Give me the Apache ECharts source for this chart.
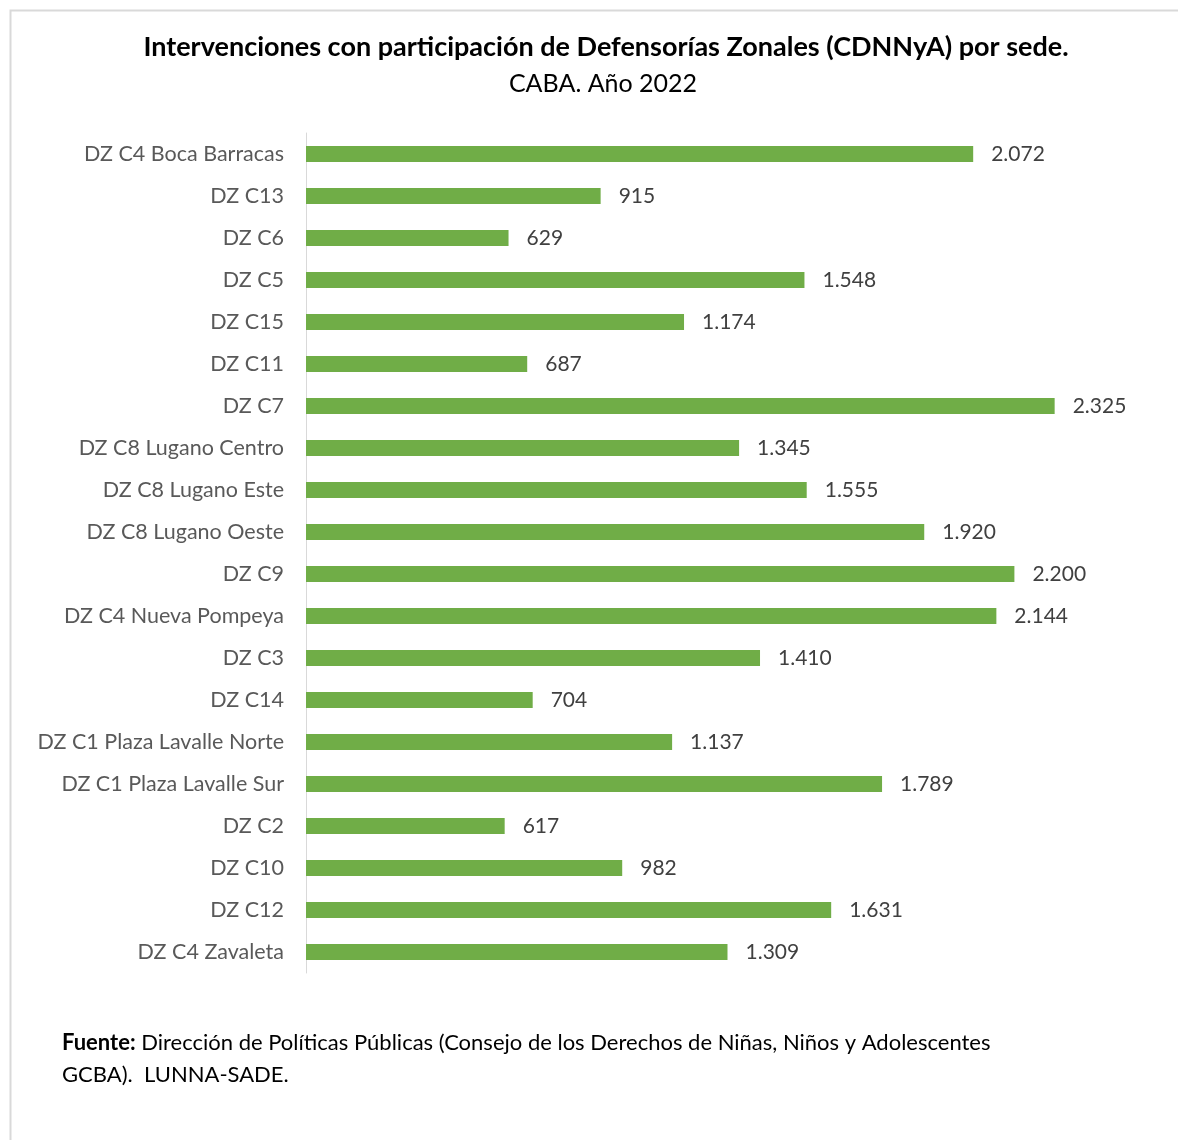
<!DOCTYPE html>
<html><head><meta charset="utf-8">
<script src="https://cdn.jsdelivr.net/npm/echarts@6/dist/echarts.min.js"></script>
<style>html,body{margin:0;padding:0;background:#fff;}#c{width:1178px;height:1140px;}</style>
</head><body><div id="c"></div>
<script>
const categories = ["DZ C4 Boca Barracas","DZ C13","DZ C6","DZ C5","DZ C15","DZ C11","DZ C7","DZ C8 Lugano Centro","DZ C8 Lugano Este","DZ C8 Lugano Oeste","DZ C9","DZ C4 Nueva Pompeya","DZ C3","DZ C14","DZ C1 Plaza Lavalle Norte","DZ C1 Plaza Lavalle Sur","DZ C2","DZ C10","DZ C12","DZ C4 Zavaleta"];
const values = [2072,915,629,1548,1174,687,2325,1345,1555,1920,2200,2144,1410,704,1137,1789,617,982,1631,1309];
const titleText = "Intervenciones con participación de Defensorías Zonales (CDNNyA) por sede.";
const subtitleText = "CABA. Año 2022";
const sourceLabel = "Fuente:";
const sourceLine1 = " Dirección de Políticas Públicas (Consejo de los Derechos de Niñas, Niños y Adolescentes";
const sourceLine2 = "GCBA).  LUNNA-SADE.";

function fmt(v){ return String(v).replace(/\B(?=(\d{3})+(?!\d))/g, "."); }
const FONT = "Lato";
const chart = echarts.init(document.getElementById('c'), null, {renderer:'canvas'});
chart.setOption({
  backgroundColor:'#ffffff',
  animation:false,
  title:[{
    text:titleText, left:601, top:29, textAlign:'center',
    textStyle:{fontFamily:FONT, fontSize:27, fontWeight:'bold', color:'#000000'}
  },{
    text:subtitleText, left:598, top:66, textAlign:'center',
    textStyle:{fontFamily:FONT, fontSize:25, fontWeight:'normal', color:'#000000'}
  }],
  grid:{left:306, top:133, width:805, height:840, containLabel:false},
  xAxis:{type:'value', min:0, max:2500, show:false},
  yAxis:{type:'category', data:categories, inverse:true,
    axisLine:{show:true, lineStyle:{color:'#d9d9d9', width:1}},
    axisTick:{show:false},
    axisLabel:{fontFamily:FONT, fontSize:21.5, color:'#595959', margin:22}
  },
  series:[{
    type:'bar', data:values, barWidth:16,
    itemStyle:{color:'#70ad47'},
    label:{show:true, position:'right', distance:18, fontFamily:FONT, fontSize:21, color:'#404040',
      formatter:p=>fmt(p.value)}
  }],
  graphic:[
    {type:'rect', left:8, top:8, shape:{width:1200, height:1200}, style:{fill:'none', stroke:'#d9d9d9', lineWidth:2}, silent:true},
    {type:'text', left:62, top:1032, style:{
      text:'{b|'+sourceLabel+'}{n|'+sourceLine1+'}\n{n|'+sourceLine2+'}',
      rich:{b:{fontFamily:FONT, fontSize:22, fontWeight:'bold', color:'#000', lineHeight:32},
            n:{fontFamily:FONT, fontSize:22, color:'#000', lineHeight:32}}
    }}
  ]
});
</script></body></html>
